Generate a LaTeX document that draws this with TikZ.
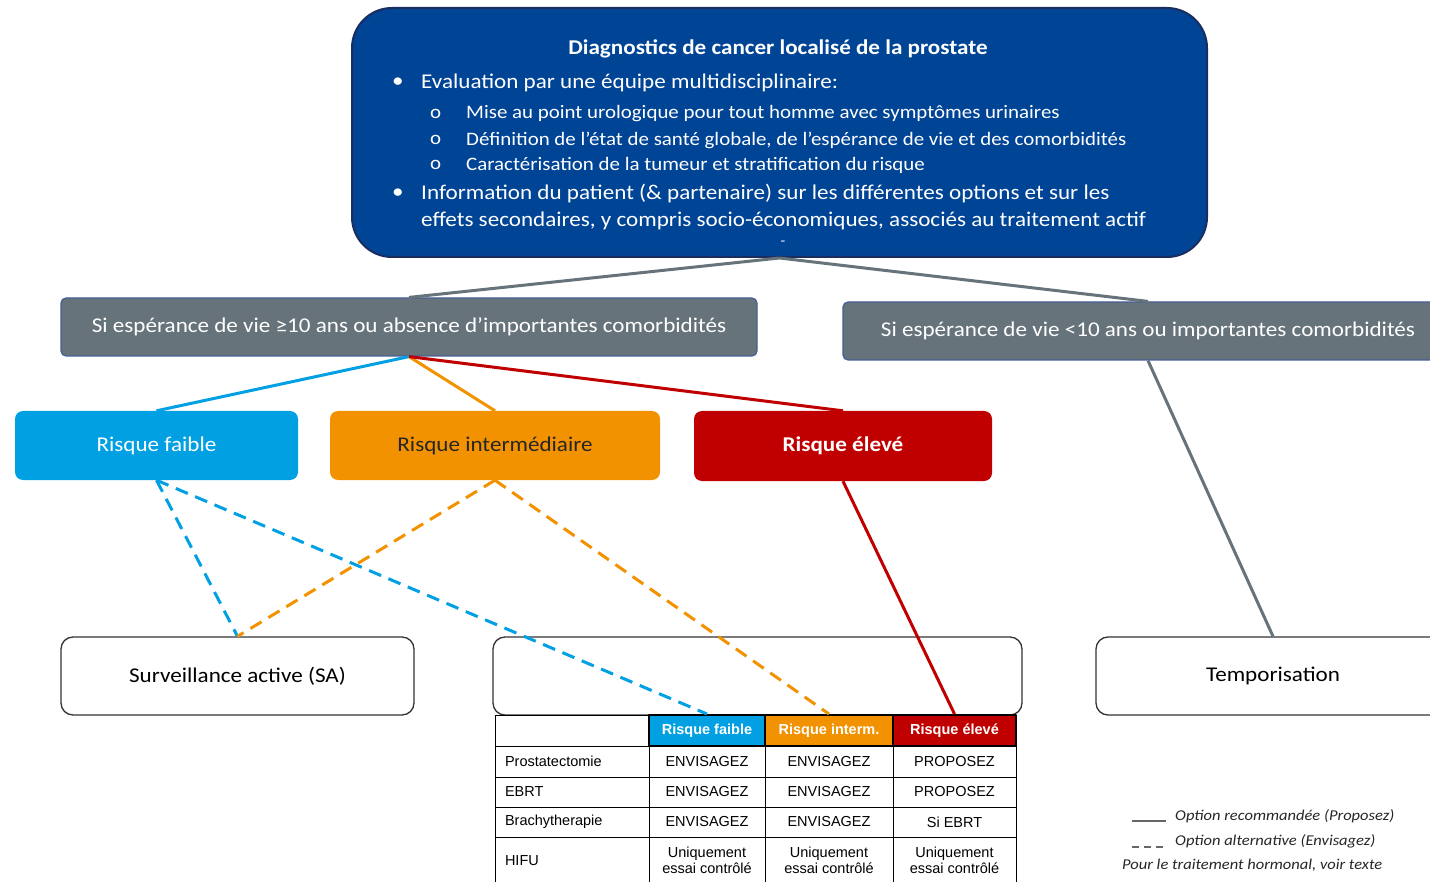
\documentclass[tikz,border=0pt]{standalone}
\usepackage{fontspec}
\setmainfont{Carlito}[FakeStretch=1.1]
\newfontfamily\arialfont{Liberation Sans}
\usetikzlibrary{positioning}

\definecolor{diagblue}{RGB}{0,68,150}
\definecolor{diagedge}{RGB}{25,45,95}
\definecolor{condgrey}{RGB}{103,115,123}
\definecolor{condedge}{RGB}{70,95,150}
\definecolor{lowblue}{RGB}{0,160,227}
\definecolor{midorange}{RGB}{243,146,0}
\definecolor{highred}{RGB}{192,0,0}

\begin{document}
\begin{tikzpicture}[x=1pt, y=-1pt, line join=round]

    % Stili
    \tikzset{
        diagbox/.style={draw=diagedge, line width=2pt, fill=diagblue, rounded corners=40pt},
        condbox/.style={draw=condedge, line width=1.2pt, fill=condgrey, rounded corners=5pt,
            text=white, font=\fontsize{21}{25}\selectfont},
        riskbox/.style={rounded corners=8pt, font=\fontsize{21}{25}\selectfont},
        optbox/.style={draw=black!80, line width=1.3pt, fill=white, rounded corners=12pt,
            font=\fontsize{21}{25}\selectfont},
        wtxt/.style={text=white, anchor=west, inner sep=0pt},
        cell/.style={draw, line width=1pt, inner sep=0pt, align=center,
            font=\arialfont\fontsize{14.5}{16}\selectfont},
        hdr/.style={cell, line width=2pt, text=white, font=\arialfont\bfseries\fontsize{14.5}{16}\selectfont},
        alt/.style={line width=3pt, dash pattern=on 13pt off 8pt},
        rec/.style={line width=3pt},
        legtxt/.style={anchor=west, inner sep=0pt, text=black!85, font=\itshape\fontsize{15}{18}\selectfont}
    }

    \useasboundingbox (0,0) rectangle (1430,882);
    \clip (0,0) rectangle (1430,882);

    % Blocco diagnosi
    \node[diagbox, minimum width=855pt, minimum height=249pt] (diag) at (779.5,132.5) {};
    \node[text=white, font=\bfseries\fontsize{21}{25}\selectfont] (diagtitle) at (778,49) {Diagnostics de cancer localisé de la prostate};
    \begin{scope}[font=\fontsize{21}{25}\selectfont]
        \node[wtxt] (b1) at (392,83) {•};
        \node[wtxt] (b1txt) at (421,83) {Evaluation par une équipe multidisciplinaire:};
        \node[wtxt, font=\fontsize{19}{23}\selectfont] (s1) at (430,114) {o};
        \node[wtxt, font=\fontsize{19}{23}\selectfont] (s1txt) at (466,114) {Mise au point urologique pour tout homme avec symptômes urinaires};
        \node[wtxt, font=\fontsize{19}{23}\selectfont] (s2) at (430,140) {o};
        \node[wtxt, font=\fontsize{19}{23}\selectfont] (s2txt) at (466,140) {Définition de l’état de santé globale, de l’espérance de vie et des comorbidités};
        \node[wtxt, font=\fontsize{19}{23}\selectfont] (s3) at (430,165) {o};
        \node[wtxt, font=\fontsize{19}{23}\selectfont] (s3txt) at (466,165) {Caractérisation de la tumeur et stratification du risque};
        \node[wtxt] (b2) at (392,194) {•};
        \node[wtxt] (b2txt) at (421,194) {Information du patient (\& partenaire) sur les différentes options et sur les};
        \node[wtxt] (b2txt2) at (421,221) {effets secondaires, y compris socio-économiques, associés au traitement actif};
        \node[text=white, font=\fontsize{14}{16}\selectfont] (dash) at (783,243) {-};
    \end{scope}

    % Condizioni
    \node[condbox, minimum width=696pt, minimum height=58pt] (condL) at (409,327) {Si espérance de vie ≥10 ans ou absence d’importantes comorbidités};
    \node[condbox, minimum width=610pt, minimum height=58pt] (condR) at (1148,331) {Si espérance de vie <10 ans ou importantes comorbidités};

    \draw[condgrey, line width=3pt] (diag.south) -- (condL.north);
    \draw[condgrey, line width=3pt] (diag.south) -- (condR.north);

    % Rischi
    \node[riskbox, fill=lowblue, text=white, minimum width=283pt, minimum height=69pt] (faible) at (156.5,445.5) {Risque faible};
    \node[riskbox, fill=midorange, text=black!85, minimum width=330pt, minimum height=69pt] (interm) at (495,445.5) {Risque intermédiaire};
    \node[riskbox, fill=highred, text=white, font=\bfseries\fontsize{21}{25}\selectfont, minimum width=298pt, minimum height=70pt] (eleve) at (843,446) {Risque élevé};

    \draw[lowblue, rec] (condL.south) -- (faible.north);
    \draw[midorange, rec] (condL.south) -- (interm.north);
    \draw[highred, rec] (condL.south) -- (eleve.north);

    % Opzioni
    \node[optbox, minimum width=353pt, minimum height=78pt] (sa) at (237.5,676) {Surveillance active (SA)};
    \node[optbox, minimum width=529pt, minimum height=78pt] (treat) at (757.5,676) {};
    \node[optbox, minimum width=354pt, minimum height=78pt] (tempo) at (1273,676) {Temporisation};

    \draw[condgrey, line width=3pt] (condR.south) -- (tempo.north);

    % Tabella
    \node[cell, minimum width=154pt, minimum height=31pt] (corner) at (572,730.5) {};
    \node[hdr, fill=lowblue, minimum width=116pt, minimum height=31pt] (hfaible) at (707,730.5) {Risque faible};
    \node[hdr, fill=midorange, minimum width=128pt, minimum height=31pt] (hinterm) at (829,730.5) {Risque interm.};
    \node[hdr, fill=highred, minimum width=123pt, minimum height=31pt] (heleve) at (954.5,730.5) {Risque élevé};

    \foreach \yc/\rowh/\tname/\ca/\cb/\cc [count=\r] in {
        761.5/31/Prostatectomie/ENVISAGEZ/ENVISAGEZ/PROPOSEZ,
        792/30/EBRT/ENVISAGEZ/ENVISAGEZ/PROPOSEZ,
        822/30/Brachytherapie/ENVISAGEZ/ENVISAGEZ/Si EBRT,
        860.5/47/HIFU/{Uniquement\\essai contrôlé}/{Uniquement\\essai contrôlé}/{Uniquement\\essai contrôlé}}
    {
        \node[cell, minimum width=154pt, text width=134pt, align=left, minimum height=\rowh pt] (t\r) at (572,\yc) {\tname};
        \node[cell, minimum width=116pt, minimum height=\rowh pt] (a\r) at (707,\yc) {\ca};
        \node[cell, minimum width=128pt, minimum height=\rowh pt] (b\r) at (829,\yc) {\cb};
        \node[cell, minimum width=123pt, minimum height=\rowh pt] (c\r) at (954.5,\yc) {\cc};
    }

    % Collegamenti rischio -> opzioni
    \draw[lowblue, alt] (faible.south) -- (sa.north);
    \draw[lowblue, alt] (faible.south) -- (hfaible.north);
    \draw[midorange, alt] (interm.south) -- (sa.north);
    \draw[midorange, alt] (interm.south) -- (hinterm.north);
    \draw[highred, rec] (eleve.south) -- (heleve.north);

    % Legenda
    \coordinate (recA) at (1132,821);
    \coordinate (recB) at (1166,821);
    \coordinate (altA) at (1132,847);
    \coordinate (altB) at (1166,847);
    \draw[black!60, line width=1.3pt] (recA) -- (recB);
    \draw[black!60, line width=1.3pt, dash pattern=on 7pt off 5pt] (altA) -- (altB);
    \node[legtxt] (legrec) at (1175,816) {Option recommandée (Proposez)};
    \node[legtxt] (legalt) at (1175,841) {Option alternative (Envisagez)};
    \node[legtxt] (leghorm) at (1122,865) {Pour le traitement hormonal, voir texte};

\end{tikzpicture}
\end{document}
